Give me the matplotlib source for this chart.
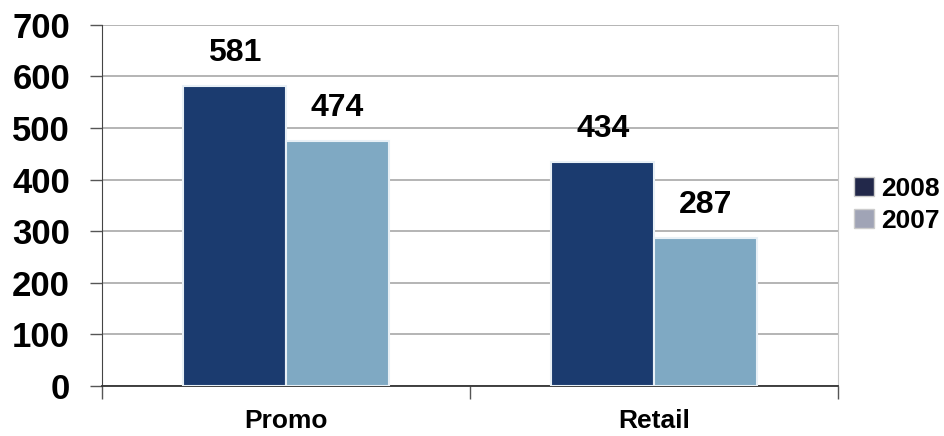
import numpy as np
import matplotlib.pyplot as plt
from matplotlib.patches import Patch

categories = ["Promo", "Retail"]
years = ["2008", "2007"]
values_2008 = [581, 434]
values_2007 = [474, 287]

plt.rcParams['font.family'] = ['Liberation Sans', 'DejaVu Sans']
plt.rcParams['font.weight'] = 'bold'

fig = plt.figure(figsize=(9.44, 4.36), dpi=100)
ax = fig.add_axes([0.108, 0.115, 0.78, 0.828])

x = np.arange(len(categories))
w = 0.28
b1 = ax.bar(x - w / 2, values_2008, w, color="#1b3b6f", edgecolor="#e8f0f6", linewidth=1.5, zorder=3)
b2 = ax.bar(x + w / 2, values_2007, w, color="#7fa9c3", edgecolor="#e8f0f6", linewidth=1.5, zorder=3)

for bars, vals in [(b1, values_2008), (b2, values_2007)]:
    for r, v in zip(bars, vals):
        ax.annotate(str(v), (r.get_x() + r.get_width() / 2, v), xytext=(0, 13),
                    textcoords="offset points", ha="center", va="bottom",
                    fontsize=23, fontweight="bold")

ax.set_xlim(-0.5, 1.5)
ax.set_ylim(0, 700)
ax.set_yticks(range(0, 701, 100))
ax.yaxis.grid(True, color="#a8a8a8", linewidth=1.2, zorder=0)
ax.set_xticks([-0.5, 0.5, 1.5], minor=False)
ax.set_xticklabels([])
ax.set_xticks(x, minor=True)
ax.set_xticklabels(categories, minor=True)
ax.tick_params(axis="x", which="minor", length=0, pad=17, labelsize=19)
ax.tick_params(axis="x", which="major", length=9, width=1, color="#555555")
ax.tick_params(axis="y", length=9, width=1, color="#555555", pad=14, labelsize=25)
for lab in ax.get_xticklabels(minor=True) + ax.get_yticklabels():
    lab.set_fontweight("bold")

ax.spines["top"].set_visible(False)
ax.spines["right"].set_color("#c8c8c8")
ax.spines["left"].set_color("#444444")
ax.spines["bottom"].set_color("#333333")
ax.spines["bottom"].set_linewidth(1.3)

handles = [Patch(facecolor="#22284a", edgecolor="#cccccc"),
           Patch(facecolor="#a0a4b6", edgecolor="#cccccc")]
leg = fig.legend(handles, years, loc="center left", bbox_to_anchor=(0.905, 0.53),
                 frameon=False, fontsize=19, handlelength=0.75, handleheight=0.75,
                 handletextpad=0.25, labelspacing=0.3, borderaxespad=0, borderpad=0)
for t in leg.get_texts():
    t.set_fontweight("bold")

fig.savefig("out.png", dpi=100)
